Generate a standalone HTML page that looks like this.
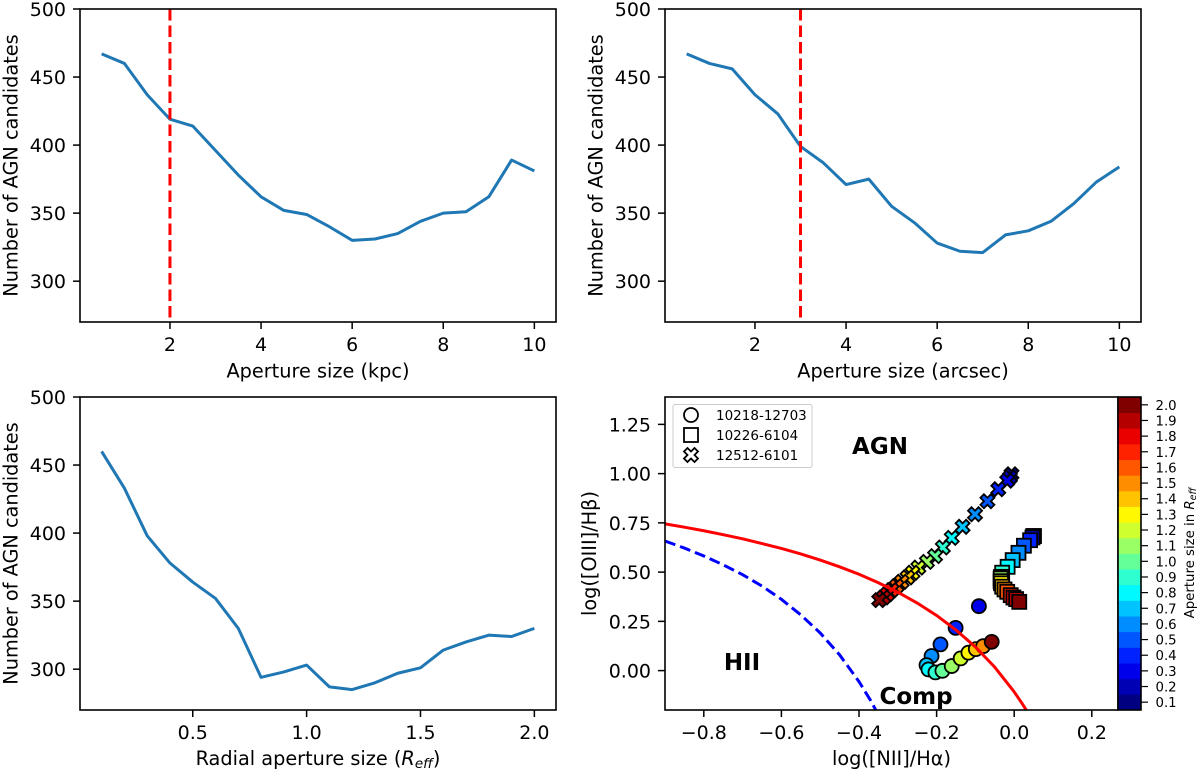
<!DOCTYPE html>
<html lang="en">
<head>
<meta charset="utf-8">
<title>AGN candidates vs aperture size</title>
<style>
html,body{margin:0;padding:0;background:#fff;}
svg{display:block;font-family:"DejaVu Sans","Liberation Sans",sans-serif;fill:#000;}
.tick{font-size:19px;}
.label{font-size:19.3px;}
.cb{font-size:13.3px;}
.region{font-size:23px;font-weight:bold;}
</style>
</head>
<body>
<svg id="fig" xmlns="http://www.w3.org/2000/svg" width="1200" height="772" viewBox="0 0 1200 772">
<defs><clipPath id="bpt-clip"><rect x="665" y="397" width="453" height="313"/></clipPath></defs>
<g id="p1"></g>
<g id="p2"></g>
<g id="p3"></g>
<g id="p4"></g>
<g id="cbar"></g>

<text class="label" x="318" y="377.5" text-anchor="middle">Aperture size (kpc)</text>
<text class="label" x="903" y="377.5" text-anchor="middle">Aperture size (arcsec)</text>
<text class="label" x="318" y="765" text-anchor="middle">Radial aperture size (<tspan font-style="italic">R</tspan><tspan font-style="italic" font-size="13.5px" dy="3">eff</tspan><tspan dy="-3">)</tspan></text>
<text class="label" x="891.5" y="765" text-anchor="middle">log([NII]/Hα)</text>
<text class="label" transform="translate(17.5,165.5) rotate(-90)" text-anchor="middle">Number of AGN candidates</text>
<text class="label" transform="translate(602.5,165.5) rotate(-90)" text-anchor="middle">Number of AGN candidates</text>
<text class="label" transform="translate(17.5,553.5) rotate(-90)" text-anchor="middle">Number of AGN candidates</text>
<text class="label" transform="translate(596,553.5) rotate(-90)" text-anchor="middle">log([OIII]/Hβ)</text>
<text class="cb" transform="translate(1194,553) rotate(-90)" text-anchor="middle">Aperture size in <tspan font-style="italic">R</tspan><tspan font-style="italic" font-size="9.5px" dy="2">eff</tspan></text>
</svg>
<script>
// ---- Line chart data ----
var apertureKpc = [0.5,1,1.5,2,2.5,3,3.5,4,4.5,5,5.5,6,6.5,7,7.5,8,8.5,9,9.5,10];
var countsKpc = [467,460,437,419,414,396,378,362,352,349,340,330,331,335,344,350,351,362,389,381];
var apertureArcsec = [0.5,1,1.5,2,2.5,3,3.5,4,4.5,5,5.5,6,6.5,7,7.5,8,8.5,9,9.5,10];
var countsArcsec = [467,460,456,437,423,399,387,371,375,355,343,328,322,321,334,337,344,357,373,384];
var apertureReff = [0.1,0.2,0.3,0.4,0.5,0.6,0.7,0.8,0.9,1.0,1.1,1.2,1.3,1.4,1.5,1.6,1.7,1.8,1.9,2.0];
var countsReff = [460,433,398,378,364,352,330,294,298,303,287,285,290,297,301,314,320,325,324,330];
var cutKpc = 2;
var cutArcsec = 3;
// ---- Tick data ----
var countTicks = [300,350,400,450,500];
var apertureTicks = [2,4,6,8,10];
var reffTicks = [0.5,1.0,1.5,2.0];
var reffTickLabels = ['0.5','1.0','1.5','2.0'];
var bptXTicks = [-0.8,-0.6,-0.4,-0.2,0,0.2];
var bptXTickLabels = ['\u22120.8','\u22120.6','\u22120.4','\u22120.2','0.0','0.2'];
var bptYTicks = [0,0.25,0.5,0.75,1,1.25];
var bptYTickLabels = ['0.00','0.25','0.50','0.75','1.00','1.25'];
// ---- BPT data ----
var kewleyX = [-0.9,-0.85,-0.8,-0.75,-0.7,-0.65,-0.6,-0.55,-0.5,-0.45,-0.4,-0.35,-0.3,-0.25,-0.2,-0.15,-0.1,-0.05,0,0.02,0.035];
var kewleyY = [0.745,0.728,0.710,0.690,0.669,0.645,0.620,0.592,0.561,0.527,0.489,0.446,0.398,0.343,0.280,0.206,0.120,0.017,-0.108,-0.166,-0.212];
var kauffX = [-0.9,-0.85,-0.8,-0.75,-0.7,-0.65,-0.6,-0.55,-0.5,-0.45,-0.4,-0.37,-0.35];
var kauffY = [0.658,0.622,0.582,0.537,0.487,0.429,0.362,0.283,0.191,0.080,-0.056,-0.152,-0.225];
var crossLevels = [0.1,0.2,0.3,0.4,0.5,0.6,0.7,0.8,0.9,1.0,1.1,1.2,1.3,1.4,1.5,1.6,1.7,1.8,1.9,2.0];
var crossX = [-0.007,-0.011,-0.018,-0.041,-0.069,-0.101,-0.133,-0.161,-0.184,-0.204,-0.225,-0.247,-0.262,-0.275,-0.290,-0.303,-0.316,-0.327,-0.337,-0.348];
var crossY = [0.997,0.981,0.964,0.921,0.860,0.794,0.730,0.674,0.625,0.581,0.552,0.523,0.497,0.473,0.451,0.429,0.409,0.388,0.371,0.358];
var squareLevels = [0.1,0.2,0.3,0.4,0.5,0.6,0.7,0.8,0.9,1.0,1.1,1.2,1.3,1.4,1.5,1.6,1.7,1.8,1.9,2.0];
var squareX = [0.051,0.049,0.047,0.041,0.025,0.011,-0.004,-0.017,-0.031,-0.034,-0.035,-0.035,-0.034,-0.031,-0.025,-0.018,-0.009,-0.002,0.005,0.013];
var squareY = [0.683,0.683,0.676,0.662,0.634,0.598,0.561,0.527,0.497,0.476,0.468,0.454,0.443,0.426,0.412,0.400,0.383,0.371,0.363,0.349];
var circleLevels = [0.3,0.4,0.5,0.6,0.7,0.8,0.9,1.0,1.1,1.2,1.3,1.4,1.5,2.0];
var circleX = [-0.091,-0.151,-0.190,-0.213,-0.226,-0.221,-0.203,-0.185,-0.161,-0.138,-0.118,-0.099,-0.080,-0.058];
var circleY = [0.327,0.217,0.133,0.074,0.028,0.006,-0.009,-0.001,0.023,0.062,0.091,0.109,0.124,0.146];
var colorbarLevels = [0.1,0.2,0.3,0.4,0.5,0.6,0.7,0.8,0.9,1.0,1.1,1.2,1.3,1.4,1.5,1.6,1.7,1.8,1.9,2.0];
var colorbarLabels = ['0.1','0.2','0.3','0.4','0.5','0.6','0.7','0.8','0.9','1.0','1.1','1.2','1.3','1.4','1.5','1.6','1.7','1.8','1.9','2.0'];
var legendNames = ['10218-12703','10226-6104','12512-6101'];

var NS = 'http://www.w3.org/2000/svg';
function make(parent, tag, attrs, txt) {
  var el = document.createElementNS(NS, tag);
  for (var k in attrs) el.setAttribute(k, attrs[k]);
  if (txt !== undefined) el.textContent = txt;
  parent.appendChild(el);
  return el;
}
function linear(d0, d1, r0, r1) {
  return function (v) { return r0 + (v - d0) * (r1 - r0) / (d1 - d0); };
}
function jet(level) {
  var t = (level - 0.1) / 1.9;
  function ch(c) { return Math.round(255 * Math.max(0, Math.min(1, 1.5 - Math.abs(4 * t - c)))); }
  return 'rgb(' + ch(3) + ',' + ch(2) + ',' + ch(1) + ')';
}
function pointsOf(xs, ys, fx, fy) {
  return xs.map(function (x, i) { return fx(x).toFixed(2) + ',' + fy(ys[i]).toFixed(2); }).join(' ');
}
function drawFrame(g, box, fx, fy, xt, xl, yt, yl) {
  xt.forEach(function (v, i) {
    var px = fx(v);
    var tk = make(g, 'line', {x1: px, x2: px, y1: box.b, y2: box.b + 7, stroke: '#000', 'stroke-width': 1.5});
    
    
    var lb = make(g, 'text', {x: px, y: box.b + 29, 'text-anchor': 'middle', 'class': 'tick'}, xl[i]);
    
    
  });
  yt.forEach(function (v, i) {
    var py = fy(v);
    var tk = make(g, 'line', {x1: box.l - 7, x2: box.l, y1: py, y2: py, stroke: '#000', 'stroke-width': 1.5});
    
    
    var lb = make(g, 'text', {x: box.l - 14, y: py + 7, 'text-anchor': 'end', 'class': 'tick'}, yl[i]);
    
    
  });
}
function drawSpine(g, box) {
  var fr = make(g, 'rect', {x: box.l, y: box.t, width: box.r - box.l, height: box.b - box.t, fill: 'none', stroke: '#000', 'stroke-width': 1.6});
  
  
}
function drawLinePanel(id, box, xmin, xmax, xs, ys, xt, xl, cut) {
  var g = document.getElementById(id);
  var fx = linear(xmin, xmax, box.l, box.r);
  var fy = linear(270, 500, box.b, box.t);
  drawFrame(g, box, fx, fy, xt, xl, countTicks, countTicks.map(String));
  var ln = make(g, 'polyline', {points: pointsOf(xs, ys, fx, fy), fill: 'none', stroke: '#1f77b4', 'stroke-width': 3, 'stroke-linejoin': 'round'});
  
  
  if (cut !== null) {
    var c = make(g, 'line', {x1: fx(cut), x2: fx(cut), y1: box.t, y2: box.b, stroke: '#f00', 'stroke-width': 3, 'stroke-dasharray': '11.5,5'});
    
    
  }
  drawSpine(g, box);
}
drawLinePanel('p1', {l: 80, r: 556, t: 9, b: 322}, 0.025, 10.475, apertureKpc, countsKpc, apertureTicks, apertureTicks.map(String), cutKpc);
drawLinePanel('p2', {l: 665, r: 1141, t: 9, b: 322}, 0.025, 10.475, apertureArcsec, countsArcsec, apertureTicks, apertureTicks.map(String), cutArcsec);
drawLinePanel('p3', {l: 80, r: 556, t: 397, b: 710}, 0.005, 2.095, apertureReff, countsReff, reffTicks, reffTickLabels, null);

// ---- BPT panel ----
var bptBox = {l: 665, r: 1118, t: 397, b: 710};
var bptFx = linear(-0.9, 0.2675, bptBox.l, bptBox.r);
var bptFy = linear(-0.2, 1.389, bptBox.b, bptBox.t);
var p4 = document.getElementById('p4');
drawFrame(p4, bptBox, bptFx, bptFy, bptXTicks, bptXTickLabels, bptYTicks, bptYTickLabels);
var plotArea = make(p4, 'g', {'clip-path': 'url(#bpt-clip)'});



var CROSS = [[-1,-2],[0,-1],[1,-2],[2,-1],[1,0],[2,1],[1,2],[0,1],[-1,2],[-2,1],[-1,0],[-2,-1]];
function crossPts(cx, cy, u) {
  return CROSS.map(function (p) { return (cx + p[0] * u).toFixed(2) + ',' + (cy + p[1] * u).toFixed(2); }).join(' ');
}
circleX.forEach(function (x, i) {
  var c = make(plotArea, 'circle', {cx: bptFx(x), cy: bptFy(circleY[i]), r: 7, fill: jet(circleLevels[i]), stroke: '#000', 'stroke-width': 1.8});
  
  
});
squareX.forEach(function (x, i) {
  var s = make(plotArea, 'rect', {x: bptFx(x) - 7, y: bptFy(squareY[i]) - 7, width: 14, height: 14, fill: jet(squareLevels[i]), stroke: '#000', 'stroke-width': 1.8});
  
  
});
crossX.forEach(function (x, i) {
  var m = make(plotArea, 'polygon', {points: crossPts(bptFx(x), bptFy(crossY[i]), 3.5), fill: jet(crossLevels[i]), stroke: '#000', 'stroke-width': 1.8, 'stroke-linejoin': 'miter'});
  
  
});
var kew = make(plotArea, 'polyline', {points: pointsOf(kewleyX, kewleyY, bptFx, bptFy), fill: 'none', stroke: '#f00', 'stroke-width': 3});


var kau = make(plotArea, 'polyline', {points: pointsOf(kauffX, kauffY, bptFx, bptFy), fill: 'none', stroke: '#00f', 'stroke-width': 3, 'stroke-dasharray': '11,5'});



var t1 = make(p4, 'text', {x: 880, y: 454, 'text-anchor': 'middle', 'class': 'region'}, 'AGN');


var t2 = make(p4, 'text', {x: 742, y: 670, 'text-anchor': 'middle', 'class': 'region'}, 'HII');


var t3 = make(p4, 'text', {x: 916, y: 704, 'text-anchor': 'middle', 'class': 'region'}, 'Comp');



// legend
var lg = make(p4, 'g', {});


var lgBox = make(lg, 'rect', {x: 673, y: 404.5, width: 139, height: 63, rx: 2, fill: '#fff', 'fill-opacity': 0.8, stroke: '#ccc', 'stroke-width': 1});


var lm0 = make(lg, 'circle', {cx: 691, cy: 415, r: 7, fill: '#fff', stroke: '#000', 'stroke-width': 1.8});


var lm1 = make(lg, 'rect', {x: 684, y: 428, width: 14, height: 14, fill: '#fff', stroke: '#000', 'stroke-width': 1.8});


var lm2 = make(lg, 'polygon', {points: crossPts(691, 455, 3.5), fill: '#fff', stroke: '#000', 'stroke-width': 1.8});


legendNames.forEach(function (n, i) {
  var t = make(lg, 'text', {x: 716, y: 420 + i * 20, 'font-size': '13.5px'}, n);
  
  
});

// ---- Colorbar ----
var cb = document.getElementById('cbar');
var cbBox = {l: 1118, r: 1141, t: 397, b: 710};
var cbFy = linear(0.05, 2.05, cbBox.b, cbBox.t);
colorbarLevels.forEach(function (lv, i) {
  var top = cbFy(lv + 0.05);
  var cell = make(cb, 'rect', {x: cbBox.l, y: top, width: cbBox.r - cbBox.l, height: cbFy(lv - 0.05) - top + 0.4, fill: jet(lv)});
  
  
  var tk = make(cb, 'line', {x1: cbBox.r, x2: cbBox.r + 7, y1: cbFy(lv), y2: cbFy(lv), stroke: '#000', 'stroke-width': 1.2});
  
  
  var lb = make(cb, 'text', {x: cbBox.r + 14.5, y: cbFy(lv) + 5, 'class': 'cb'}, colorbarLabels[i]);
  
  
});
drawSpine(cb, cbBox);
drawSpine(p4, bptBox);
</script>
</body>
</html>
